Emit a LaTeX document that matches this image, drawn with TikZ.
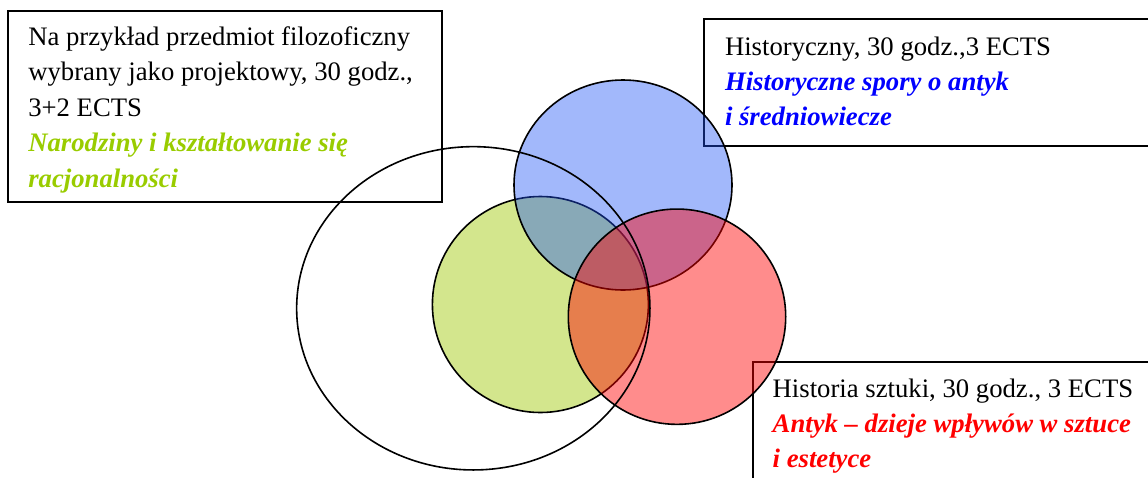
\documentclass[tikz,border=0pt]{standalone}
\usepackage{fontspec}
\setmainfont{Liberation Serif}
\usetikzlibrary{shapes.geometric}
\definecolor{txtgreen}{RGB}{153,204,0}
\definecolor{fillgreen}{RGB}{211,230,141}
\definecolor{fillblue}{RGB}{30,82,245}
\tikzset{
  labelbox/.style={draw=black, line width=1.8pt, rectangle, inner sep=0pt, outer sep=0pt, anchor=north west},
  txt/.style={anchor=base west, inner sep=0pt, outer sep=0pt, font=\fontsize{26.7}{35}\selectfont},
  head/.style={txt, text=black},
  sub/.style={txt, font=\fontsize{26.7}{35}\selectfont\bfseries\itshape},
  setshape/.style={draw=black, line width=1.6pt, inner sep=0pt, outer sep=0pt},
}
\begin{document}
\begin{tikzpicture}[x=1pt,y=-1pt]
\useasboundingbox (0,0) rectangle (1148,477);
\clip (0,0) rectangle (1148,477);
% boxes
\node[labelbox, minimum width=433.4pt, minimum height=191.3pt] (box1) at (8.3,11) {};
\node[labelbox, minimum width=460pt, minimum height=126.7pt] (box2) at (704.3,19.3) {};
\node[labelbox, minimum width=420pt, minimum height=140pt] (box3) at (752.7,361.7) {};
% texts box 1
\node[head] (t11) at (28.3,45) {Na przykład przedmiot filozoficzny};
\node[head] (t12) at (28.3,80.5) {wybrany jako projektowy, 30 godz.,};
\node[head] (t13) at (28.3,116) {3+2 ECTS};
\node[sub, text=txtgreen] (t14) at (28.3,151.5) {Narodziny i kształtowanie się};
\node[sub, text=txtgreen] (t15) at (28.3,187) {racjonalności};
% texts box 2
\node[head] (t21) at (725,55) {Historyczny, 30 godz.,3 ECTS};
\node[sub, text=blue] (t22) at (725,90) {Historyczne spory o antyk};
\node[sub, text=blue] (t23) at (725,125) {i średniowiecze};
% texts box 3
\node[head] (t31) at (772.7,397) {Historia sztuki, 30 godz., 3 ECTS};
\node[sub, text=red] (t32) at (772.7,432) {Antyk – dzieje wpływów w sztuce};
\node[sub, text=red] (t33) at (772.7,467) {i estetyce};
% circles
\node[setshape, ellipse, fill=fillgreen, minimum width=216pt, minimum height=216pt] (green) at (540.4,304.5) {};
\node[setshape, ellipse, fill=fillblue, fill opacity=0.41, minimum width=218pt, minimum height=210pt] (bluec) at (623,185) {};
\node[setshape, ellipse, fill=red, fill opacity=0.45, minimum width=217.4pt, minimum height=215.3pt] (redc) at (677,316.7) {};
\node[setshape, ellipse, minimum width=353.3pt, minimum height=323.3pt] (big) at (473.3,308.3) {};
\end{tikzpicture}
\end{document}
